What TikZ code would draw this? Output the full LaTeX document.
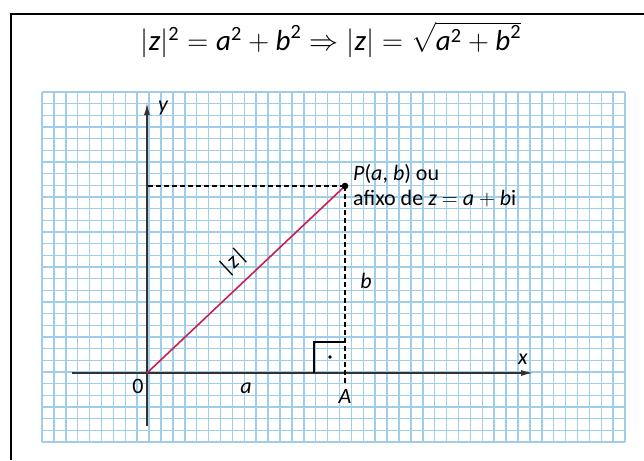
\documentclass[tikz,border=0pt]{standalone}
\usepackage{amsmath}
\usepackage{fix-cm}
\usepackage{fontspec}
\setmainfont{Carlito}
\usetikzlibrary{arrows.meta,positioning}
\definecolor{gridblue}{RGB}{160,205,232}
\definecolor{modred}{RGB}{200,32,78}
\tikzset{
  pl/grid/.style={draw=gridblue, line width=1.5pt},
  pl/axis/.style={draw=black!80, line width=1.4pt, -{Latex[length=12pt,width=6pt]}},
  pl/proj/.style={line width=1.1pt, dash pattern=on 5pt off 3pt},
  pl/modulus/.style={draw=modred, line width=1.6pt},
  pl/label/.style={font=\fontsize{22}{25}\selectfont, inner sep=1pt},
  pl/frame/.style={line width=1.6pt}
}
\newcommand{\iv}[1]{\textit{#1}}
\newcommand{\sq}{^{\textup{2}}}

\begin{document}
\begin{tikzpicture}[x=1pt,y=-1pt]
\useasboundingbox (0,0) rectangle (644,460);
\draw[pl/frame] (11,460) -- (11,14) -- (644,14);
\node[font=\fontsize{29}{34}\selectfont] (formula) at (331,40)
  {$|\iv{z}|\sq = \iv{a}\sq + \iv{b}\sq \Rightarrow |\iv{z}| = \sqrt{\iv{a}\sq + \iv{b}\sq}$};
% graph paper
\foreach \i in {0,...,49}
  \draw[pl/grid] ({42+\i*11.9},92) -- ({42+\i*11.9},442);
\foreach \j in {0,...,30}
  \draw[pl/grid] (42,{92+\j*11.667}) -- (625,{92+\j*11.667});
% points
\coordinate (O) at (147,373);
\coordinate (P) at (345,186);
\coordinate (A) at (345,373);
\coordinate (Aend) at (345,383);
\coordinate (xstart) at (72,373);
\coordinate (xend) at (533,373);
\coordinate (ystart) at (147,426);
\coordinate (yend) at (147,103);
% axes
\draw[pl/axis] (xstart) -- (xend);
\draw[pl/axis] (ystart) -- (yend);
\node[pl/label, above left=7pt and 4pt of xend] (xlab) {\iv{x}};
\node[pl/label, right=10pt of yend, yshift=-5pt] (ylab) {\iv{y}};
% projections
\draw[pl/proj] (P) -- (O |- P);
\draw[pl/proj] (P) -- (Aend);
\draw[line width=1.3pt] (314,373) |- (345,342);
\fill (330,357) circle (1.8pt);
% modulus
\draw[pl/modulus] (O) -- (P);
\fill (P) circle (3.3pt);
\node[pl/label, right=7pt of P, align=left] (Plab)
  {\iv{P}(\iv{a}, \iv{b}) ou\\afixo de \iv{z} $=$ \iv{a} $+$ \iv{b}i};
\node[pl/label, rotate=43] (zlab) at (233,262) {|\iv{z}|};
\node[pl/label] (Olab) at (138,386) {0};
\node[pl/label] (alab) at (246,388) {\iv{a}};
\node[pl/label, below=5pt of Aend] (Alab) {\iv{A}};
\node[pl/label] (blab) at (366,281) {\iv{b}};
\end{tikzpicture}
\end{document}
